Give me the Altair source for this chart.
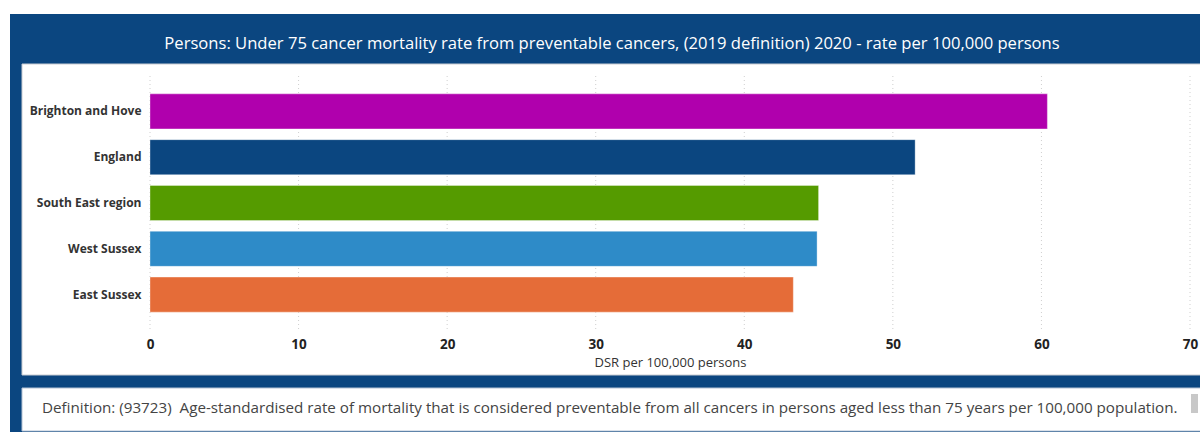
import altair as alt
import pandas as pd

# Under-75 preventable cancer mortality, 2020 (DSR per 100,000 persons)
areas = ["Brighton and Hove", "England", "South East region", "West Sussex", "East Sussex"]
rates = [60.4, 51.5, 45.0, 44.9, 43.3]
bar_colors = ["#b000ad", "#0b4680", "#559b00", "#2e8bc8", "#e56c38"]
x_ticks = [0, 10, 20, 30, 40, 50, 60, 70]

title_text = ("Persons: Under 75 cancer mortality rate from preventable cancers, "
              "(2019 definition) 2020 - rate per 100,000 persons")
definition_text = ("Definition: (93723)\u00a0 Age-standardised rate of mortality that is considered "
                   "preventable from all cancers in persons aged less than 75 years per 100,000 population.")
axis_title = "DSR per 100,000 persons"

FONT = "Open Sans"
NAVY = "#0b4680"

# plot area placement inside the 1200x432 canvas
LEFT, TOP = 150, 76
W, H = 1040, 254

bars_df = pd.DataFrame({"area": areas, "rate": rates})
ticks_df = pd.DataFrame({"tick": x_ticks})
one = pd.DataFrame({"k": [0]})

x_scale = alt.Scale(domain=[0, 70], nice=False, zero=True)
x_axis = alt.Axis(
    values=x_ticks, grid=False, domain=False, ticks=False,
    labelFont=FONT, labelFontWeight="bold", labelFontSize=13.5, labelColor="#222222",
    labelPadding=7, labelFlush=False,
    title=axis_title, titleFont=FONT, titleFontSize=13, titleFontWeight="normal",
    titleColor="#333333", titlePadding=6, zindex=1,
)


def box(x0, x1, y0, y1, color, stroke=None):
    """Decorative rectangle given in canvas pixels."""
    kw = {"color": color}
    if stroke:
        kw.update(stroke=stroke, strokeWidth=1)
    return alt.Chart(one).mark_rect(**kw).encode(
        x=alt.value(x0 - LEFT), x2=alt.value(x1 - LEFT),
        y=alt.value(y0 - TOP), y2=alt.value(y1 - TOP),
    )


frame = box(10, 1230, 14, 440, NAVY)
panel = box(22, 1230, 64, 375, "#ffffff", stroke="#c9ccd2")
def_box = box(22, 1230, 388, 431, "#ffffff", stroke="#b4c2d4")
scroll = box(1191, 1198, 394, 413, "#c8c8c8")

grid = alt.Chart(ticks_df).mark_rule(color="#cfcfcf", strokeDash=[1, 3], strokeWidth=1).encode(
    x=alt.X("tick:Q", scale=x_scale, axis=x_axis)
)

bars = alt.Chart(bars_df).mark_bar(strokeWidth=1, strokeOpacity=0.35, stroke="#ffffff").encode(
    x=alt.X("rate:Q", scale=x_scale, axis=x_axis),
    y=alt.Y(
        "area:N", sort=areas,
        scale=alt.Scale(paddingInner=0.235, paddingOuter=0.39),
        axis=alt.Axis(
            title=None, domain=False, ticks=False, labelPadding=9,
            labelFont=FONT, labelFontWeight="bold", labelFontSize=12, labelColor="#333333",
            zindex=1,
        ),
    ),
    color=alt.Color("area:N", scale=alt.Scale(domain=areas, range=bar_colors), legend=None),
    tooltip=["area:N", "rate:Q"],
)

title = alt.Chart(one).mark_text(
    text=title_text, font=FONT, fontSize=16.6, color="#ffffff", align="center", baseline="middle"
).encode(x=alt.value(612 - LEFT), y=alt.value(44 - TOP))

definition = alt.Chart(one).mark_text(
    text=definition_text, font=FONT, fontSize=15.2, color="#444444", align="left", baseline="middle"
).encode(x=alt.value(42 - LEFT), y=alt.value(408 - TOP))

chart = alt.layer(frame, panel, def_box, scroll, grid, bars, title, definition).properties(
    width=W, height=H,
    padding={"left": LEFT, "top": TOP, "right": 1200 - LEFT - W, "bottom": 432 - TOP - H},
    autosize=alt.AutoSizeParams(type="none"),
    background="#ffffff",
).configure_view(stroke=None)

chart.save("out.html", embed_options={"renderer": "svg", "actions": False})
